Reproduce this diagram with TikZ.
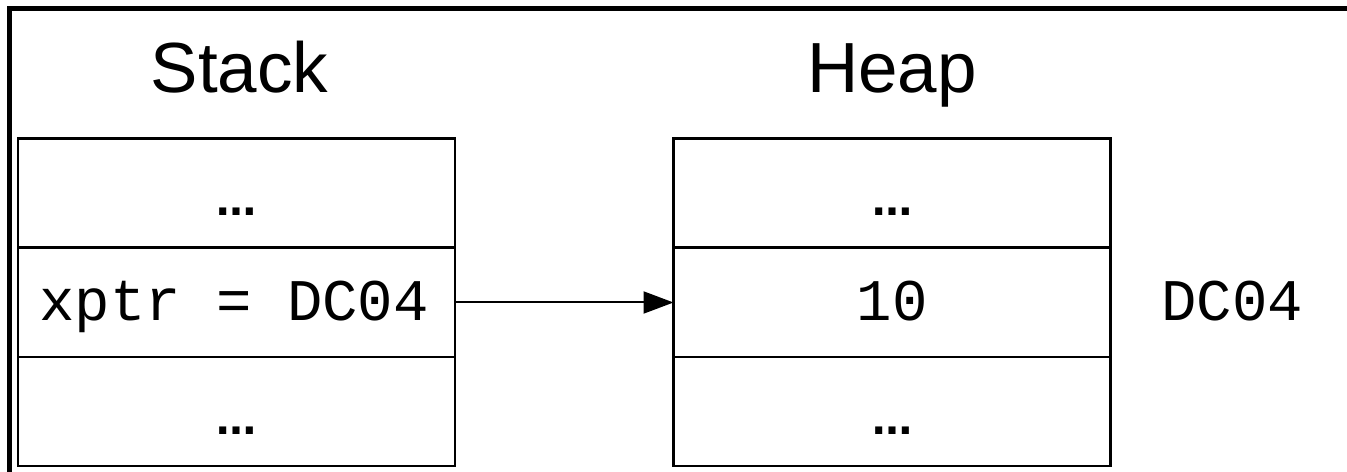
\documentclass[tikz,border=0pt]{standalone}
\usepackage{fontspec}
\setmainfont{Liberation Sans}
\newfontfamily\monofont{Liberation Mono}
\newfontfamily\dotfont{DejaVu Sans}
\usetikzlibrary{arrows.meta}
\tikzset{
  cell/.style={draw=black, line width=2.5bp, minimum width=437bp, minimum height=109bp, inner sep=0pt, outer sep=0pt},
  title/.style={font=\fontsize{71bp}{80bp}\selectfont, anchor=base, inner sep=0pt},
  code/.style={font=\monofont\fontsize{59bp}{66bp}\selectfont, anchor=base, inner sep=0pt},
  dots/.style={font=\dotfont\bfseries\fontsize{40bp}{44bp}\selectfont, anchor=base, inner sep=0pt},
  ptr/.style={line width=2bp, -{Triangle[length=30bp, width=22bp]}},
}
\begin{document}
\begin{tikzpicture}[x=1bp, y=-1bp]
\useasboundingbox (0,0) rectangle (1347,472);
\clip (0,0) rectangle (1347,472);
% outer frame (extends beyond the picture)
\draw[line width=5bp] (9.5,8.5) rectangle (1400,520);
% stack cells
\node[cell] (s1) at (236.5,193) {};
\node[cell] (s2) at (236.5,302.5) {};
\node[cell] (s3) at (236.5,411.5) {};
% heap cells
\node[cell] (h1) at (892,193) {};
\node[cell] (h2) at (892,302.5) {};
\node[cell] (h3) at (892,411.5) {};
% titles
\node[title] (tstack) at (239.5,93) {Stack};
\node[title] (theap) at (892,93) {Heap};
% cell contents
\node[dots] (s1t) at (236.5,216) {…};
\node[code] (s2t) at (234,321) {xptr = DC04};
\node[dots] (s3t) at (236.5,434) {…};
\node[dots] (h1t) at (892,216) {…};
\node[code] (h2t) at (892,321) {10};
\node[dots] (h3t) at (892,434) {…};
\node[code] (addr) at (1232,321) {DC04};
% pointer
\draw[ptr] (s2.east) -- (h2.west);
\end{tikzpicture}
\end{document}
